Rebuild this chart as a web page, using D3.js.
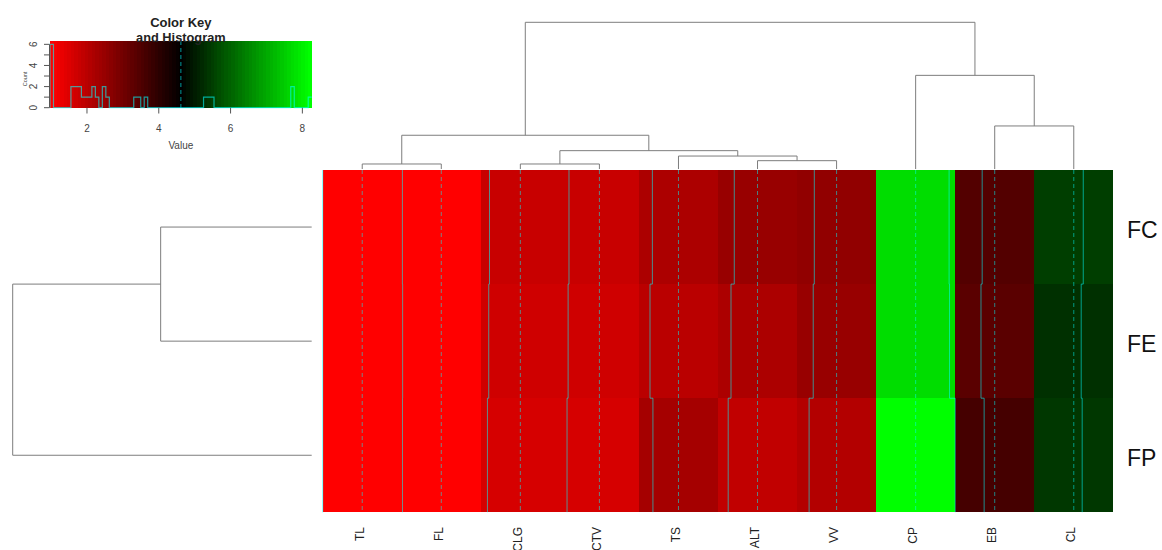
<!DOCTYPE html>
<html><head><meta charset="utf-8">
<script src="https://cdn.jsdelivr.net/npm/d3@7"></script>
<style>
body{margin:0;background:#fff}
svg{display:block}
text{font-family:"Liberation Sans",Arial,Helvetica,sans-serif}
</style>
</head><body>
<svg id="chart" width="1162" height="550"></svg>
<script>
// ---------------- data ----------------
const rowNames = ["FC", "FE", "FP"];
const colNames = ["TL", "FL", "CLG", "CTV", "TS", "ALT", "VV", "CP", "EB", "CL"];
// values per row, in column order
const valuesFC = [0.97, 1.03, 1.77, 1.81, 2.21, 2.47, 2.56, 7.70, 3.46, 5.49];
const valuesFE = [0.97, 1.05, 1.70, 1.73, 1.99, 2.17, 2.46, 7.74, 3.35, 5.30];
const valuesFP = [0.97, 1.04, 1.58, 1.63, 2.26, 1.91, 2.08, 8.26, 3.64, 5.39];
// column dendrogram merges: [left, right, height]; numbers refer to earlier merges (1-based)
const colMerge = [
  ["TL", "FL", 0.41],
  ["CLG", "CTV", 0.41],
  ["ALT", "VV", 0.68],
  ["TS", 3, 1.06],
  [2, 4, 1.50],
  [1, 5, 2.76],
  ["EB", "CL", 3.52],
  ["CP", 7, 7.66],
  [6, 8, 12.0]
];
const colDendroMax = 12.0;
// row dendrogram merges
const rowMerge = [
  ["FC", "FE", 0.49],
  [1, "FP", 0.97]
];
const rowDendroMax = 0.97;
const nColors = 75;
const keyTicksX = [2, 4, 6, 8];
const keyTicksY = [0, 1, 2, 3, 4, 5, 6];
const keyLabelsY = [0, 2, 4, 6];

// ---------------- setup ----------------
const svg = d3.select("#chart");
const matrix = [valuesFC, valuesFE, valuesFP];
const all = matrix.flat();
const vmin = d3.min(all), vmax = d3.max(all);
const breaks = d3.range(nColors + 1).map(i => vmin + (vmax - vmin) * i / nColors);
const half = (nColors - 1) / 2;
const colors = d3.range(nColors).map(i => i <= half
  ? d3.rgb(Math.round(255 * (1 - i / half)), 0, 0).formatHex()
  : d3.rgb(0, Math.round(255 * (i - half) / half), 0).formatHex());
const colorScale = d3.scaleQuantize().domain([vmin, vmax]).range(colors);
const vline = (vmin + vmax) / 2;

const TRACE = "cyan";
const DEND = "#7d7d7d";

// heatmap scales
const xBand = d3.scaleBand().domain(colNames).range([322.7, 1113.3]).padding(0);
const yBand = d3.scaleBand().domain(rowNames).range([170, 512.3]).padding(0);
const cw = xBand.bandwidth(), rh = yBand.bandwidth();
const within = d3.scaleLinear().domain([vmin, vmax]).range([0, cw]);

// cells
const cells = [];
rowNames.forEach((r, i) => colNames.forEach((c, j) => cells.push({r, c, v: matrix[i][j], last: j === colNames.length - 1, lastRow: i === rowNames.length - 1})));
svg.append("g").attr("shape-rendering", "crispEdges")
  .selectAll("rect").data(cells).join("rect")
  .attr("x", d => xBand(d.c)).attr("y", d => yBand(d.r))
  .attr("width", d => cw + (d.last ? 0 : 0.5)).attr("height", d => rh + (d.lastRow ? 0 : 0.5))
  .attr("fill", d => colorScale(d.v));

// dashed vlines
svg.append("g").selectAll("line").data(colNames).join("line")
  .attr("x1", c => xBand(c) + within(vline)).attr("x2", c => xBand(c) + within(vline))
  .attr("y1", yBand.range()[0]).attr("y2", yBand.range()[1])
  .attr("stroke", TRACE).attr("stroke-opacity", 0.5).attr("stroke-width", 1)
  .attr("stroke-dasharray", "4,3");

// trace lines
const lineGen = d3.line();
svg.append("g").selectAll("path").data(colNames).join("path")
  .attr("d", (c, j) => {
    const pts = [];
    rowNames.forEach((r, i) => {
      const x = xBand(c) + within(matrix[i][j]);
      pts.push([x, yBand(r)], [x, yBand(r) + rh]);
    });
    return lineGen(pts);
  })
  .attr("fill", "none").attr("stroke", TRACE).attr("stroke-opacity", 0.55).attr("stroke-width", 1);

// row labels
svg.append("g").selectAll("text").data(rowNames).join("text")
  .attr("x", 1127).attr("y", r => yBand(r) + rh / 2 + 10.5)
  .attr("font-size", 23).attr("fill", "#111").text(r => r);

// column labels
svg.append("g").selectAll("text").data(colNames).join("text")
  .attr("transform", c => `translate(${xBand(c) + cw / 2},527) rotate(-90)`)
  .attr("y", 1.5).attr("text-anchor", "end")
  .attr("font-size", 12).attr("fill", "#222").text(c => c);

// ---------------- dendrograms ----------------
function buildNodes(merge, leafPos) {
  const nodes = [];
  const get = k => typeof k === "number" ? nodes[k - 1] : {p: leafPos(k), h: 0};
  merge.forEach(([a, b, h]) => {
    const A = get(a), B = get(b);
    nodes.push({p: (A.p + B.p) / 2, h, A, B});
  });
  return nodes;
}
const colH = d3.scaleLinear().domain([0, colDendroMax]).range([169, 22.3]);
const colNodes = buildNodes(colMerge, c => xBand(c) + cw / 2);
svg.append("g").selectAll("path").data(colNodes).join("path")
  .attr("d", n => lineGen([[n.A.p, colH(n.A.h)], [n.A.p, colH(n.h)], [n.B.p, colH(n.h)], [n.B.p, colH(n.B.h)]]))
  .attr("fill", "none").attr("stroke", DEND).attr("stroke-width", 1);

const rowH = d3.scaleLinear().domain([0, rowDendroMax]).range([311.7, 12.7]);
const rowNodes = buildNodes(rowMerge, r => yBand(r) + rh / 2);
svg.append("g").selectAll("path").data(rowNodes).join("path")
  .attr("d", n => lineGen([[rowH(n.A.h), n.A.p], [rowH(n.h), n.A.p], [rowH(n.h), n.B.p], [rowH(n.B.h), n.B.p]]))
  .attr("fill", "none").attr("stroke", DEND).attr("stroke-width", 1);

// ---------------- color key ----------------
const kx = d3.scaleLinear().domain([vmin, vmax]).range([50, 311.7]);
const bins = d3.bin().domain([vmin, vmax]).thresholds(breaks.slice(1, -1))(all);
const counts = bins.map(b => b.length);
const maxCount = d3.max(counts);
const ky = d3.scaleLinear().domain([0, maxCount / 0.95]).range([107.7, 41]);

const key = svg.append("g");
key.append("g").attr("shape-rendering", "crispEdges")
  .selectAll("rect").data(colors).join("rect")
  .attr("x", (c, i) => kx(breaks[i])).attr("y", ky.range()[1])
  .attr("width", (c, i) => kx(breaks[i + 1]) - kx(breaks[i]) + (i < nColors - 1 ? 1 : 0))
  .attr("height", ky.range()[0] - ky.range()[1])
  .attr("fill", c => c);

// histogram
const hpts = [[kx(vmin), ky(0)]];
bins.forEach((b, i) => { hpts.push([kx(breaks[i]), ky(counts[i])], [kx(breaks[i + 1]), ky(counts[i])]); });
key.append("path").attr("d", lineGen(hpts)).attr("fill", "none")
  .attr("stroke", TRACE).attr("stroke-opacity", 0.6).attr("stroke-width", 1.2);
key.append("line").attr("x1", kx(vline)).attr("x2", kx(vline))
  .attr("y1", ky.range()[1]).attr("y2", ky.range()[0])
  .attr("stroke", TRACE).attr("stroke-opacity", 0.5).attr("stroke-width", 1.2).attr("stroke-dasharray", "4,3");

// x axis of key
key.append("g").selectAll("line").data(keyTicksX).join("line")
  .attr("x1", kx).attr("x2", kx).attr("y1", 107.7).attr("y2", 113.5)
  .attr("stroke", "#555");
key.append("g").selectAll("text").data(keyTicksX).join("text")
  .attr("x", kx).attr("y", 131.5).attr("text-anchor", "middle")
  .attr("font-size", 10).attr("fill", "#444").text(d => d);
key.append("text").attr("x", kx(vline)).attr("y", 149)
  .attr("text-anchor", "middle").attr("font-size", 10).attr("fill", "#444").text("Value");

// y axis of key
key.append("line").attr("x1", 49.5).attr("x2", 49.5).attr("y1", ky(0)).attr("y2", ky(6)).attr("stroke", "#555");
key.append("g").selectAll("line").data(keyTicksY).join("line")
  .attr("x1", 44).attr("x2", 49.5).attr("y1", ky).attr("y2", ky).attr("stroke", "#555");
key.append("g").selectAll("text").data(keyLabelsY).join("text")
  .attr("transform", d => `translate(37,${ky(d)}) rotate(-90)`)
  .attr("text-anchor", "middle").attr("font-size", 10).attr("fill", "#444").text(d => d);
key.append("text").attr("transform", "translate(26.5,79) rotate(-90)")
  .attr("text-anchor", "middle").attr("font-size", 5.5).attr("fill", "#444").text("Count");

// title
key.append("text").attr("x", kx(vline)).attr("y", 27.3).attr("text-anchor", "middle")
  .attr("font-size", 13).attr("font-weight", "bold").attr("fill", "#222").text("Color Key");
key.append("text").attr("x", kx(vline)).attr("y", 42.3).attr("text-anchor", "middle")
  .attr("font-size", 12.8).attr("font-weight", "bold").attr("fill", "#222").text("and Histogram");
</script>
</body></html>
